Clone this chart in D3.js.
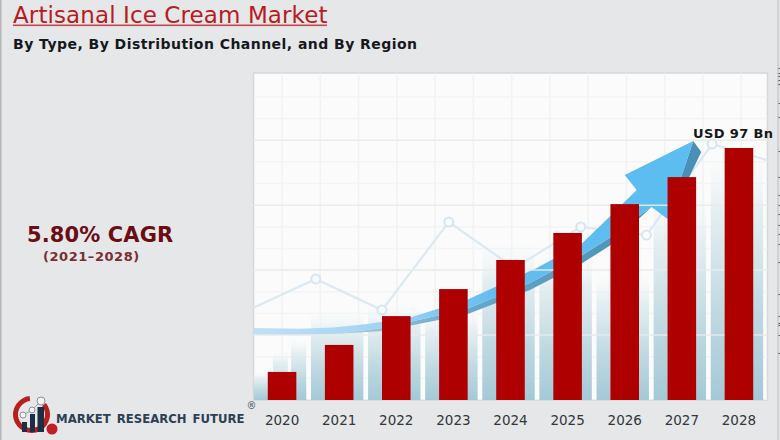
<!DOCTYPE html>
<html>
<head>
<meta charset="utf-8">
<script src="https://cdn.jsdelivr.net/npm/d3@7"></script>
<style>
  html, body { margin: 0; padding: 0; background: #e6e7e9; overflow: hidden; }
  text { font-family: "DejaVu Sans", sans-serif; }
  .axis path { display: none; }
  .axis line { display: none; }
</style>
</head>
<body>
<svg id="svg" width="780" height="440"></svg>
<script>
// Chart values
var years = [2020, 2021, 2022, 2023, 2024, 2025, 2026, 2027, 2028]
var marketSize = [10.8, 21.2, 32.3, 42.7, 53.9, 64.3, 75.4, 85.8, 97]
var gridValues = [25, 50, 75, 100]

// Backdrop picture, in the same year / value units as the bars
var columnValues = [11, 35, 38, 35, 62, 58, 50, 81, 97]
var sideYears = [2019.97, 2020.29]
var sideValues = [19, 24]
var trendYears = [2019.14, 2020.59, 2021.75, 2022.92, 2024.07, 2025.23, 2026.38, 2027.53, 2028.75]
var trendValues = [31.9, 46.6, 34.6, 68.5, 50.8, 66.6, 63.5, 98.5, 90.7]
var arrowYears = [2019.49, 2020.3, 2020.9, 2021.5, 2022.24, 2023.23, 2024.46, 2025.26, 2025.73, 2026.21, 2026.0, 2027.2, 2026.75, 2026.47, 2025.73, 2025.26, 2024.34, 2023.23, 2021.77, 2020.9, 2020.3, 2019.49]
var arrowValues = [27.7, 27.4, 27.9, 29.3, 31.8, 38.5, 50.8, 60.4, 70.4, 80.8, 86.6, 99.7, 69.7, 74.3, 62.4, 55.8, 45.0, 35.0, 27.7, 25.4, 25.0, 25.0]
var shadeYears = [2020.9, 2021.77, 2023.23, 2024.34, 2025.26, 2025.73, 2026.47, 2025.73, 2025.26, 2024.34, 2023.23, 2021.77]
var shadeValues = [25.4, 27.7, 35.0, 45.0, 55.8, 62.4, 74.3, 59.3, 52.7, 42.3, 32.9, 26.6]
var headYears = [2027.2, 2027.34, 2026.75, 2026.9]
var headValues = [99.7, 95.5, 68.5, 80]

var titleText = 'Artisanal Ice Cream Market'
var subtitleText = 'By Type, By Distribution Channel, and By Region'
var cagrText = '5.80% CAGR'
var cagrYears = '(2021–2028)'
var endLabel = 'USD 97 Bn'
var logoText = 'MARKET RESEARCH FUTURE'

var svg = d3.select('#svg')

const plot = { left: 253.5, right: 767.5, top: 73, bottom: 400 }

let x = d3.scaleBand()
  .domain(years)
  .range([plot.left, plot.right])
  .paddingInner(0.5)
  .paddingOuter(0.25)

let y = d3.scaleLinear()
  .domain([0, 97])
  .range([plot.bottom, 148])

// continuous version of the year axis, for the backdrop
let xYear = d3.scaleLinear()
  .domain([2020, 2028])
  .range([x(2020) + x.bandwidth() / 2, x(2028) + x.bandwidth() / 2])

let defs = svg.append('defs')

function addGradient(id, horizontal, stops) {
  let g = defs.append('linearGradient').attr('id', id)
    .attr('x1', 0).attr('y1', horizontal ? 0 : 1)
    .attr('x2', horizontal ? 1 : 0).attr('y2', 0)
  stops.forEach(s => {
    g.append('stop').attr('offset', s[0]).attr('stop-color', s[1]).attr('stop-opacity', s[2])
  })
}
addGradient('columnFill', false, [[0, '#a4c9d6', 1], [0.35, '#bcd7e0', 0.95], [0.75, '#e0ecf0', 0.85], [1, '#f6f9fa', 0]])
addGradient('arrowFill', true, [[0, '#c2e0f5', 1], [0.3, '#a0d2f3', 1], [0.55, '#62bdee', 1], [1, '#5bbdf0', 1]])
addGradient('shadeFill', true, [[0, '#a8cfe6', 1], [0.4, '#6aa8cc', 1], [1, '#4a8fb5', 1]])

defs.append('clipPath').attr('id', 'plotClip').append('rect')
  .attr('x', plot.left).attr('y', plot.top)
  .attr('width', plot.right - plot.left).attr('height', plot.bottom - plot.top)

// Page edges
var edgeTicks = [68, 73, 76, 80, 84, 103, 117, 151, 177, 195, 205, 214, 225, 234, 244, 262, 294, 316, 323, 325, 335, 353]
svg.append('rect').attr('width', 780).attr('height', 440).attr('fill', '#e6e7e9')
svg.append('rect').attr('x', 0).attr('width', 1.5).attr('height', 440).attr('fill', '#b4b5b7')
svg.append('rect').attr('x', 777.5).attr('width', 1).attr('height', 440).attr('fill', '#bdbec0')
svg.selectAll('.edgeTick')
  .data(edgeTicks)
  .enter().append('rect')
  .attr('x', 778.5).attr('y', d => d)
  .attr('width', 1.5).attr('height', 0.8)
  .attr('fill', '#222')

// Plot background
svg.append('rect')
  .attr('x', plot.left).attr('y', plot.top)
  .attr('width', plot.right - plot.left).attr('height', plot.bottom - plot.top)
  .attr('fill', '#fbfbfb')
  .attr('stroke', '#d6d7d9')
  .attr('stroke-width', 1.5)

let back = svg.append('g').attr('clip-path', 'url(#plotClip)')

// minor grid
back.selectAll('.minorX')
  .data(d3.range(2020, 2029, 0.67))
  .enter().append('line')
  .attr('x1', d => xYear(d)).attr('x2', d => xYear(d))
  .attr('y1', plot.top).attr('y2', plot.bottom)
  .attr('stroke', '#f1f2f3').attr('stroke-width', 1.5)
back.selectAll('.minorY')
  .data(d3.range(0, 125, 25 / 3))
  .enter().append('line')
  .attr('x1', plot.left).attr('x2', plot.right)
  .attr('y1', d => y(d)).attr('y2', d => y(d))
  .attr('stroke', '#f3f4f5').attr('stroke-width', 1.5)

// pale columns behind the bars
back.selectAll('.column')
  .data(years)
  .enter().append('rect')
  .attr('x', d => xYear(d) - 2 - (x.step() - 4.7) / 2)
  .attr('width', x.step() - 4.7)
  .attr('y', (d, i) => y(columnValues[i]))
  .attr('height', (d, i) => y(0) - y(columnValues[i]))
  .attr('fill', 'url(#columnFill)')
back.selectAll('.sideColumn')
  .data(sideYears)
  .enter().append('rect')
  .attr('x', d => xYear(d) - 7.5)
  .attr('width', 15)
  .attr('y', (d, i) => y(sideValues[i]))
  .attr('height', (d, i) => y(0) - y(sideValues[i]))
  .attr('fill', 'url(#columnFill)')

// pale trend line
let trendLine = d3.line().x(d => xYear(d[0])).y(d => y(d[1]))
let trendPoints = d3.zip(trendYears, trendValues)
back.append('path')
  .attr('d', trendLine(trendPoints))
  .attr('fill', 'none')
  .attr('stroke', '#dbe9f3')
  .attr('stroke-width', 2.2)
back.selectAll('.trendDot')
  .data(trendPoints)
  .enter().append('circle')
  .attr('cx', d => xYear(d[0]))
  .attr('cy', d => y(d[1]))
  .attr('r', 4.5)
  .attr('fill', '#f8fbfc')
  .attr('stroke', '#d6e6f1')
  .attr('stroke-width', 2)

// rising arrow
let outline = d3.line().x(d => xYear(d[0])).y(d => y(d[1]))
back.append('path')
  .attr('d', outline(d3.zip(shadeYears, shadeValues)) + 'Z')
  .attr('fill', 'url(#shadeFill)')
back.append('path')
  .attr('d', outline(d3.zip(headYears, headValues)) + 'Z')
  .attr('fill', '#4a8fb5')
back.append('path')
  .attr('d', outline(d3.zip(arrowYears, arrowValues)) + 'Z')
  .attr('fill', 'url(#arrowFill)')

// main grid goes over the arrow
back.selectAll('.grid')
  .data(gridValues)
  .enter().append('line')
  .attr('x1', plot.left).attr('x2', plot.right)
  .attr('y1', d => y(d)).attr('y2', d => y(d))
  .attr('stroke', '#e9ebec')
  .attr('stroke-opacity', 0.9)
  .attr('stroke-width', 1.5)

// Bars
svg.selectAll('.bar')
  .data(years)
  .enter().append('rect')
  .attr('class', 'bar')
  .attr('x', d => x(d))
  .attr('width', x.bandwidth())
  .attr('y', (d, i) => y(marketSize[i]))
  .attr('height', (d, i) => y(0) - y(marketSize[i]))
  .attr('fill', '#af0000')

// Year axis
let xAxis = svg.append('g')
  .attr('class', 'axis')
  .attr('transform', 'translate(0,' + plot.bottom + ')')
  .call(d3.axisBottom(x).tickSize(0).tickPadding(15))
xAxis.selectAll('text')
  .attr('font-size', 13.5)
  .attr('fill', '#33363a')
  .style('font-family', '"DejaVu Sans", sans-serif')

// End label
svg.append('text')
  .attr('x', 693).attr('y', 138)
  .attr('font-size', 13)
  .attr('font-weight', 'bold')
  .attr('letter-spacing', 0.38)
  .attr('fill', '#16181c')
  .text(endLabel)

// Titles
svg.append('text')
  .attr('x', 13).attr('y', 23)
  .attr('font-size', 23)
  .attr('letter-spacing', 0.1)
  .attr('fill', '#b71c22')
  .text(titleText)
svg.append('rect')
  .attr('x', 13).attr('y', 24.5)
  .attr('width', 314).attr('height', 1.6)
  .attr('fill', '#c8474c')
svg.append('text')
  .attr('x', 13).attr('y', 49)
  .attr('font-size', 14)
  .attr('font-weight', 'bold')
  .attr('letter-spacing', 0.46)
  .attr('fill', '#15181d')
  .text(subtitleText)

// CAGR
svg.append('text')
  .attr('x', 27).attr('y', 242)
  .attr('font-size', 21)
  .attr('font-weight', 'bold')
  .attr('letter-spacing', 0.1)
  .attr('fill', '#6b0d13')
  .text(cagrText)
svg.append('text')
  .attr('x', 43).attr('y', 261)
  .attr('font-size', 13)
  .attr('font-weight', 'bold')
  .attr('letter-spacing', 0.55)
  .attr('fill', '#7d2c32')
  .text(cagrYears)

// Logo
let logo = svg.append('g')
logo.append('path')
  .attr('d', d3.arc()({ innerRadius: 13.5, outerRadius: 18.5, startAngle: 0.9, endAngle: 2 * Math.PI - 0.1 }))
  .attr('transform', 'translate(31.5,414.5)')
  .attr('fill', '#b8201f')
logo.append('circle').attr('cx', 52).attr('cy', 429).attr('r', 5.5).attr('fill', '#c01f26')
logo.selectAll('.logoBar')
  .data([[22, 422, 5], [30, 414, 5], [37.5, 407, 6.5]])
  .enter().append('rect')
  .attr('x', d => d[0]).attr('y', d => d[1])
  .attr('width', d => d[2]).attr('height', d => 432 - d[1])
  .attr('fill', '#1b2e46')
logo.append('polyline')
  .attr('points', '23,415 32,410 41,401')
  .attr('fill', 'none').attr('stroke', '#9aa3ad').attr('stroke-width', 1)
logo.selectAll('.logoDot')
  .data([[23, 415, 3], [32, 410, 3], [41, 401, 4]])
  .enter().append('circle')
  .attr('cx', d => d[0]).attr('cy', d => d[1]).attr('r', d => d[2])
  .attr('fill', '#f2f3f4').attr('stroke', '#8a939d').attr('stroke-width', 1)
svg.append('text')
  .attr('x', 56).attr('y', 423)
  .attr('font-size', 11.7)
  .attr('font-weight', 'bold')
  .attr('word-spacing', 2)
  .attr('fill', '#2c3f54')
  .text(logoText)
svg.append('text')
  .attr('x', 246.5).attr('y', 409)
  .attr('font-size', 10)
  .attr('font-weight', 'bold')
  .attr('fill', '#6d7680')
  .text('®')
</script>
</body>
</html>
